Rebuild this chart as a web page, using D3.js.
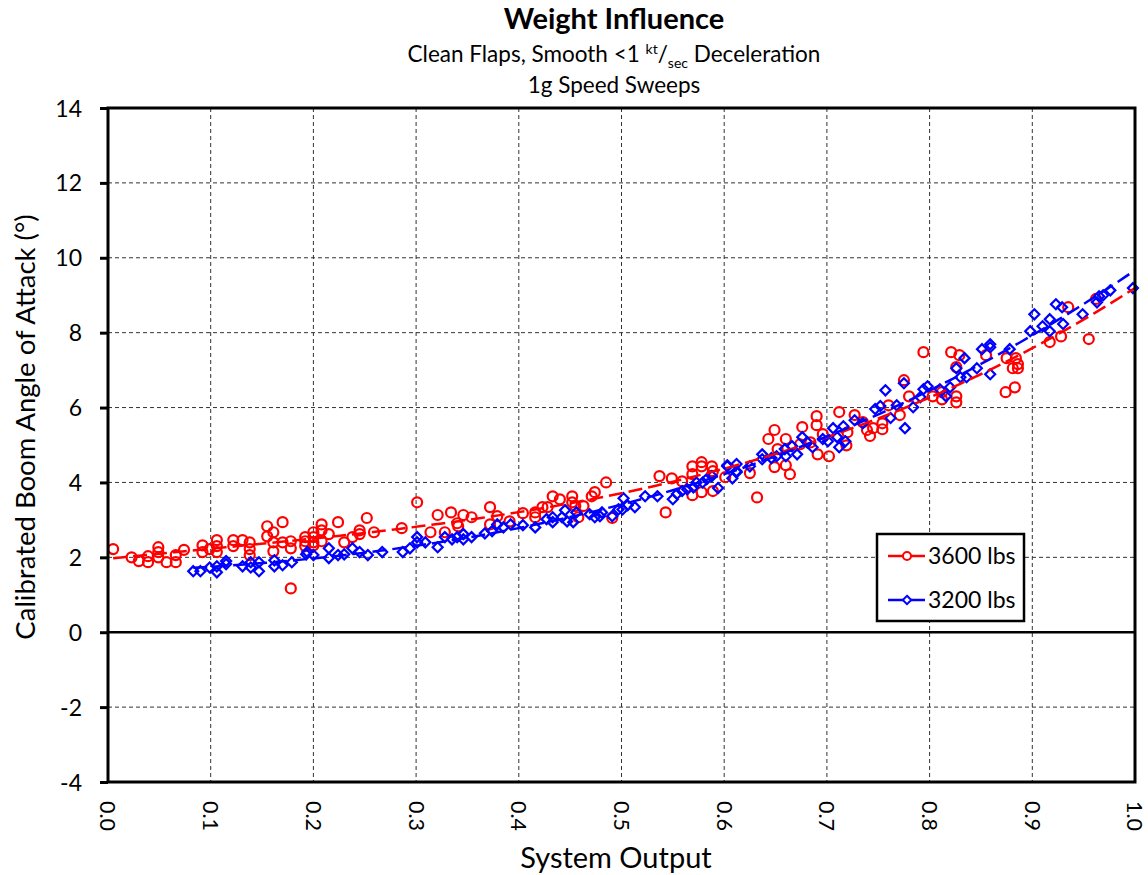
<!DOCTYPE html>
<html>
<head>
<meta charset="utf-8">
<script src="https://cdn.jsdelivr.net/npm/d3@7"></script>
<style>
  body { margin: 0; background: #fff; }
  text { font-family: Lato, "Open Sans", sans-serif; fill: #000; }
</style>
</head>
<body>
<div id="chart"></div>
<script>
// series: [system output, boom AoA deg]
const heavy3600 = [
  [0.005,2.22],[0.023,2.0],[0.03,1.9],[0.039,2.03],[0.039,1.87],[0.049,2.27],[0.049,2.14],[0.049,2.0],
  [0.057,1.87],[0.066,2.06],[0.066,1.87],[0.074,2.2],[0.092,2.32],[0.092,2.14],[0.099,2.22],[0.106,2.46],
  [0.106,2.3],[0.106,2.14],[0.122,2.46],[0.122,2.3],[0.131,2.46],[0.138,2.4],[0.138,2.22],[0.138,2.06],
  [0.155,2.83],[0.155,2.56],[0.161,2.67],[0.161,2.4],[0.161,2.16],[0.17,2.94],[0.17,2.4],[0.178,2.43],
  [0.178,2.24],[0.178,1.17],[0.192,2.43],[0.2,2.67],[0.2,2.4],
  [0.192,2.54],[0.192,2.3],[0.2,2.54],[0.2,2.32],[0.208,2.88],[0.208,2.72],[0.208,2.43],[0.215,2.62],
  [0.224,2.94],[0.23,2.4],[0.238,2.54],[0.245,2.72],[0.245,2.62],[0.252,3.05],[0.259,2.67],[0.286,2.78],
  [0.301,3.47],[0.314,2.67],[0.321,3.13],[0.328,2.67],[0.334,3.2],[0.34,2.91],[0.341,2.83],[0.346,3.13],
  [0.354,3.07],[0.372,3.34],[0.379,3.1],[0.372,2.88],[0.391,2.96],
  [0.404,3.18],[0.416,3.2],[0.416,3.07],[0.423,3.34],[0.428,3.34],[0.433,3.63],[0.44,3.55],[0.452,3.63],
  [0.452,3.47],[0.455,3.37],[0.463,3.37],[0.471,3.63],[0.474,3.74],[0.485,4.0],[0.458,3.07],[0.491,3.05],
  [0.537,4.17],[0.549,4.11],[0.559,4.03],[0.543,3.2],[0.569,4.43],[0.569,4.22],[0.578,4.54],[0.578,4.43],
  [0.588,4.43],[0.589,4.3],[0.569,3.66],[0.578,3.74],[0.589,3.77],[0.601,4.14],[0.625,4.25],[0.632,3.6],
  [0.649,5.4],[0.643,5.16],[0.652,4.89],[0.66,5.16],[0.66,4.46],[0.664,4.22],[0.649,4.41],[0.676,5.48],
  [0.674,5.02],[0.684,5.07],[0.69,5.77],[0.69,5.53],[0.691,4.75],[0.696,5.29],[0.702,4.7],[0.712,5.88],
  [0.719,4.99],[0.72,5.34],[0.727,5.8],[0.735,5.61],[0.739,5.4],[0.742,5.24],[0.745,5.45],[0.754,5.58],
  [0.754,5.42],[0.76,6.06],[0.771,5.8],[0.78,6.3],[0.775,6.73],[0.794,7.48],
  [0.803,6.3],[0.812,6.22],[0.812,6.41],[0.821,7.48],[0.829,7.4],[0.826,7.08],[0.826,6.3],[0.826,6.14],
  [0.855,7.4],[0.875,7.32],[0.884,7.32],[0.886,7.16],[0.881,7.05],[0.886,7.05],[0.874,6.41],[0.883,6.54],
  [0.917,7.75],[0.928,7.9],[0.955,7.83],[0.935,8.68],[0.962,8.9]
];

const light3200 = [
  [0.083,1.63],[0.09,1.63],[0.099,1.73],[0.106,1.6],[0.106,1.76],[0.115,1.9],[0.115,1.82],[0.131,1.76],
  [0.139,1.87],[0.139,1.73],[0.147,1.87],[0.147,1.63],[0.162,1.92],[0.162,1.76],[0.17,1.79],[0.179,1.87],
  [0.194,2.14],[0.2,2.06],
  [0.193,2.08],[0.215,2.24],[0.215,1.98],[0.224,2.06],[0.23,2.08],[0.238,2.24],[0.245,2.14],[0.253,2.06],
  [0.267,2.14],[0.287,2.14],[0.294,2.24],[0.301,2.54],[0.301,2.4],[0.309,2.4],[0.321,2.27],[0.328,2.54],
  [0.335,2.48],[0.34,2.54],[0.346,2.62],[0.346,2.48],[0.354,2.54],[0.367,2.64],[0.374,2.7],[0.379,2.88],
  [0.385,2.8],[0.392,2.88],
  [0.404,2.86],[0.416,2.8],[0.427,3.02],[0.433,3.07],[0.433,2.94],[0.442,3.07],[0.445,3.26],[0.447,2.96],
  [0.453,2.94],[0.456,3.2],[0.469,3.15],[0.474,3.07],[0.479,3.1],[0.481,3.2],[0.491,3.1],[0.497,3.28],
  [0.501,3.28],[0.506,3.39],[0.502,3.58],[0.513,3.34],[0.523,3.63],[0.535,3.63],[0.55,3.55],[0.554,3.69],
  [0.559,3.77],[0.564,3.82],[0.57,3.87],[0.573,4.0],[0.579,4.0],[0.583,4.09],[0.588,4.17],[0.594,3.85],
  [0.603,4.43],[0.608,4.11],[0.612,4.27],
  [0.603,4.46],[0.612,4.49],[0.612,4.3],[0.625,4.43],[0.637,4.75],[0.637,4.62],[0.646,4.65],[0.651,4.7],
  [0.659,4.89],[0.66,4.7],[0.666,4.97],[0.671,4.75],[0.676,5.21],[0.681,5.07],[0.686,4.94],[0.696,5.16],
  [0.701,5.1],[0.706,5.45],[0.71,5.21],[0.716,5.5],[0.712,4.94],[0.718,5.1],[0.727,5.66],[0.735,5.58],
  [0.747,5.96],[0.752,6.04],[0.757,6.46],[0.762,5.72],[0.768,6.06],[0.775,6.65],[0.776,5.45],[0.784,6.01],
  [0.791,6.28],
  [0.794,6.49],[0.798,6.57],[0.81,6.49],[0.816,6.3],[0.82,6.54],[0.826,7.05],[0.834,7.32],[0.83,6.81],
  [0.836,6.81],[0.846,7.05],[0.851,7.56],[0.859,7.61],[0.859,7.69],[0.859,6.89],[0.878,7.56],[0.898,8.04],
  [0.902,8.49],[0.91,8.17],[0.917,8.36],[0.917,8.04],[0.923,8.76],[0.929,8.68],[0.93,8.23],[0.949,8.49],
  [0.963,8.81],[0.965,8.97],[0.969,9.0],[0.976,9.13],[0.998,9.19]
];

const seriesNames = ["3600 lbs", "3200 lbs"];
const xTicks = [0, 0.1, 0.2, 0.3, 0.4, 0.5, 0.6, 0.7, 0.8, 0.9, 1.0];
const yTicks = [-4, -2, 0, 2, 4, 6, 8, 10, 12, 14];

const margin = { top: 108, right: 13, bottom: 93, left: 108 },
      width = 1148 - margin.left - margin.right,
      height = 875 - margin.top - margin.bottom;

const svg = d3.select("#chart").append("svg")
  .attr("width", 1148)
  .attr("height", 875);

const g = svg.append("g")
  .attr("transform", `translate(${margin.left},${margin.top})`);

const x = d3.scaleLinear().domain([0, 1]).range([0, width]);
const y = d3.scaleLinear().domain([-4, 14]).range([height, 0]);

// least squares cubic, like an excel order-3 trendline
function polyFit(data, order) {
  const n = order + 1;
  const A = Array.from({ length: n }, () => new Array(n + 1).fill(0));
  data.forEach(([px, py]) => {
    for (let i = 0; i < n; i++) {
      for (let j = 0; j < n; j++) A[i][j] += Math.pow(px, i + j);
      A[i][n] += py * Math.pow(px, i);
    }
  });
  for (let c = 0; c < n; c++) {
    let p = c;
    for (let r = c + 1; r < n; r++) if (Math.abs(A[r][c]) > Math.abs(A[p][c])) p = r;
    [A[c], A[p]] = [A[p], A[c]];
    for (let r = 0; r < n; r++) {
      if (r === c) continue;
      const f = A[r][c] / A[c][c];
      for (let k = c; k <= n; k++) A[r][k] -= f * A[c][k];
    }
  }
  return A.map((row, i) => row[n] / A[i][i]);
}

// grid
g.append("g").selectAll("line")
  .data(xTicks.slice(1, -1))
  .join("line")
  .attr("x1", d => x(d)).attr("x2", d => x(d))
  .attr("y1", 0).attr("y2", height)
  .attr("stroke", "#333").attr("stroke-width", 1)
  .attr("stroke-dasharray", "4,3");

g.append("g").selectAll("line")
  .data(yTicks.filter(d => d !== 0 && d !== -4 && d !== 14))
  .join("line")
  .attr("x1", 0).attr("x2", width)
  .attr("y1", d => y(d)).attr("y2", d => y(d))
  .attr("stroke", "#333").attr("stroke-width", 1)
  .attr("stroke-dasharray", "4,3");

// zero line
g.append("line")
  .attr("x1", 0).attr("x2", width)
  .attr("y1", y(0)).attr("y2", y(0))
  .attr("stroke", "#000").attr("stroke-width", 2.5);

// points
g.append("g").selectAll("circle")
  .data(heavy3600)
  .join("circle")
  .attr("cx", d => x(d[0]))
  .attr("cy", d => y(d[1]))
  .attr("r", 5)
  .attr("fill", "none")
  .attr("stroke", "#ff0000")
  .attr("stroke-width", 2.2);

const diamond = d3.symbol().type(d3.symbolDiamond2).size(64);
g.append("g").selectAll("path")
  .data(light3200)
  .join("path")
  .attr("transform", d => `translate(${x(d[0])},${y(d[1])})`)
  .attr("d", diamond)
  .attr("fill", "none")
  .attr("stroke", "#0000ff")
  .attr("stroke-width", 2.2);

// trendlines
const trendLine = d3.line().x(d => x(d[0])).y(d => y(d[1]));
[[heavy3600, "#ff0000"], [light3200, "#0000ff"]].forEach(([data, col]) => {
  const c = polyFit(data, 3);
  const x0 = d3.min(data, d => d[0]);
  const pts = d3.range(0, 101).map(i => {
    const xv = x0 + (1 - x0) * i / 100;
    return [xv, c[0] + c[1] * xv + c[2] * xv * xv + c[3] * xv * xv * xv];
  });
  g.append("path")
    .datum(pts)
    .attr("fill", "none")
    .attr("stroke", col)
    .attr("stroke-width", 2.5)
    .attr("stroke-dasharray", "14,6")
    .attr("d", trendLine);
});

// frame
g.append("rect")
  .attr("width", width).attr("height", height)
  .attr("fill", "none").attr("stroke", "#000").attr("stroke-width", 3);

// y axis
const yAxis = g.append("g")
  .call(d3.axisLeft(y).tickValues(yTicks).tickSize(8).tickFormat(d => String(d)));
yAxis.select(".domain").remove();
yAxis.selectAll("line").attr("stroke", "#000").attr("stroke-width", 3);
yAxis.selectAll("text")
  .attr("x", -26)
  .attr("dy", "0.35em")
  .style("font-size", "23px");

// x axis labels, rotated
g.append("g").selectAll("text")
  .data(xTicks)
  .join("text")
  .attr("transform", d => `translate(${x(d)},${height + 19}) rotate(90)`)
  .attr("dy", "0.35em")
  .style("font-size", "21.5px")
  .text(d => d3.format(".1f")(d));

// axis titles
svg.append("text")
  .attr("x", 616)
  .attr("y", 868)
  .attr("text-anchor", "middle")
  .style("font-size", "29px")
  .text("System Output");

svg.append("text")
  .attr("transform", `translate(35,${margin.top + height / 2 - 18}) rotate(-90)`)
  .attr("text-anchor", "middle")
  .style("font-size", "27.5px")
  .text("Calibrated Boom Angle of Attack (°)");

// titles
svg.append("text")
  .attr("x", 614).attr("y", 29)
  .attr("text-anchor", "middle")
  .style("font-size", "29px")
  .style("font-weight", "bold")
  .text("Weight Influence");

const sub = svg.append("text")
  .attr("x", 614).attr("y", 62)
  .attr("text-anchor", "middle")
  .style("font-size", "22.5px");
sub.append("tspan").text("Clean Flaps, Smooth <1 ");
sub.append("tspan").attr("dy", -8).style("font-size", "14px").text("kt");
sub.append("tspan").attr("dy", 8).text("/");
sub.append("tspan").attr("dy", 6).style("font-size", "14px").text("sec");
sub.append("tspan").attr("dy", -6).text(" Deceleration");

svg.append("text")
  .attr("x", 614).attr("y", 93)
  .attr("text-anchor", "middle")
  .style("font-size", "22.5px")
  .text("1g Speed Sweeps");

// legend
const legend = svg.append("g").attr("transform", "translate(877,534)");
legend.append("rect")
  .attr("width", 147).attr("height", 87)
  .attr("fill", "#fff").attr("stroke", "#000").attr("stroke-width", 2.5);

seriesNames.forEach((name, i) => {
  const row = legend.append("g").attr("transform", `translate(0,${22 + i * 44})`);
  const col = i === 0 ? "#ff0000" : "#0000ff";
  row.append("line")
    .attr("x1", 11).attr("x2", 48)
    .attr("stroke", col).attr("stroke-width", 2.5);
  if (i === 0) {
    row.append("circle").attr("cx", 30).attr("r", 4)
      .attr("fill", "#fff").attr("stroke", col).attr("stroke-width", 2);
  } else {
    row.append("path").attr("transform", "translate(30,0)")
      .attr("d", d3.symbol().type(d3.symbolDiamond2).size(45))
      .attr("fill", "#fff").attr("stroke", col).attr("stroke-width", 2);
  }
  row.append("text")
    .attr("x", 51).attr("dy", "0.35em")
    .style("font-size", "23px")
    .text(name);
});
</script>
</body>
</html>
